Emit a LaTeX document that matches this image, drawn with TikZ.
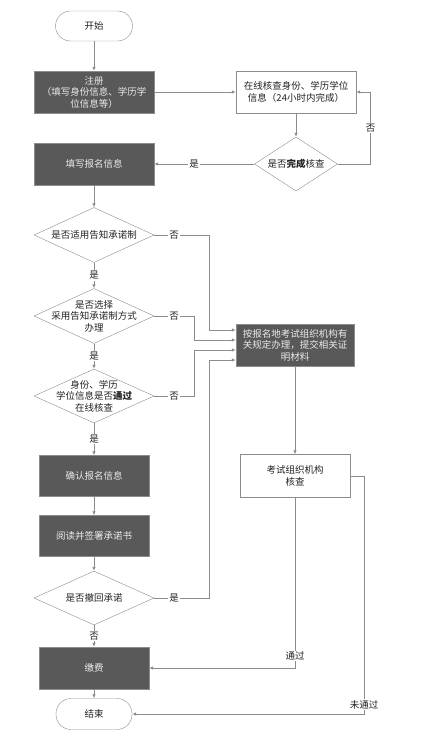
\documentclass[tikz,border=0pt]{standalone}
\usepackage{fontspec}
\setmainfont{Noto Sans CJK SC}
\usetikzlibrary{shapes.geometric,arrows.meta,positioning,calc}
\definecolor{Ink}{HTML}{222222}
\definecolor{Slate}{HTML}{595959}
\definecolor{Wire}{HTML}{8C8C8C}
\tikzset{
  darkbox/.style={draw=Wire,fill=Slate,text=white!92!black,minimum width=120pt,minimum height=42pt,align=center,inner sep=1pt},
  lightbox/.style={draw=Wire,fill=white,text=Ink,minimum width=120pt,minimum height=42pt,align=center,inner sep=1pt},
  terminal/.style={draw=Wire,rounded corners=15pt,minimum width=77pt,minimum height=30pt,text=Ink},
  decision/.style={diamond,draw=Wire,minimum width=120pt,minimum height=55pt,inner sep=0pt,label={[align=center,text=Ink]center:{#1}}},
  flow/.style={-{Latex[length=4pt,width=3.5pt]},draw=Wire,line width=0.8pt},
  tag/.style={fill=white,inner sep=1pt,text=Ink}
}

\begin{document}
\begin{tikzpicture}[x=1pt,y=-1pt,every node/.style={font=\fontsize{9.5}{11.5}\selectfont}]
  \useasboundingbox (0,0) rectangle (430,735);
  % left column
  \node[terminal] (start) at (94,26) {开始};
  \node[darkbox] (reg) at (94,92) {注册\\（填写身份信息、学历学\\位信息等）};
  \node[darkbox] (fill) at (94,164) {填写报名信息};
  \node[decision={是否适用告知承诺制}] (q1) at (94,235) {};
  \node[decision={是否选择\\采用告知承诺制方式\\办理}] (q2) at (94,316) {};
  \node[decision={身份、学历\\学位信息是否\textbf{通过}\\在线核查},minimum height=54pt] (q3) at (94,396) {};
  \node[darkbox,minimum width=110pt,minimum height=41pt] (confirm) at (94,476) {确认报名信息};
  \node[darkbox,minimum width=110pt,minimum height=41pt] (read) at (94,536) {阅读并签署承诺书};
  \node[decision={是否撤回承诺},minimum height=54pt] (q4) at (94,598) {};
  \node[darkbox,minimum width=110pt] (pay) at (94,668) {缴费};
  \node[terminal,minimum width=76pt,minimum height=31pt] (end) at (94,714) {结束};
  % right column
  \node[lightbox] (check) at (296,92) {在线核查身份、学历学位\\信息（24小时内完成）};
  \node[decision={是否\textbf{完成}核查},minimum width=83pt,minimum height=54pt] (q0) at (296,164) {};
  \node[darkbox,minimum width=118pt] (proc) at (295,345) {按报名地考试组织机构有\\关规定办理，提交相关证\\明材料};
  \node[lightbox,minimum width=110pt,minimum height=43pt] (review) at (295,476) {考试组织机构\\核查};

  \draw[flow] (start) -- (reg);
  \draw[flow] (reg) -- (check);
  \draw[flow] (check) -- (q0);
  \draw[flow] (q0.west) -- node[tag,pos=0.6]{是} (fill.east);
  \draw[flow] (q0.east) -- ++(33,0) |- node[tag,pos=0.25]{否} (check.east);
  \draw[flow] (fill) -- (q1);
  \draw[flow] (q1) -- node[tag]{是} (q2);
  \draw[flow] (q2) -- node[tag]{是} (q3);
  \draw[flow] (q3) -- node[tag]{是} (confirm);
  \draw[flow] (confirm) -- (read);
  \draw[flow] (read) -- (q4);
  \draw[flow] (q4) -- node[tag]{否} (pay);
  \draw[flow] (pay) -- (end);
  % into the proof box
  \draw[flow] (q1.east) -- node[tag,pos=0.36]{否} ++(55,0) |- ([yshift=15pt]proc.west);
  \draw[flow] (q2.east) -- node[tag]{否} ++(40,0) |- ([yshift=5pt]proc.west);
  \draw[flow] (q3.east) -- node[tag]{否} ++(40,0) |- ([yshift=-5pt]proc.west);
  \draw[flow] (q4.east) -- node[tag,pos=0.36]{是} ++(55,0) |- ([yshift=-15pt]proc.west);
  \draw[flow] (proc) -- (review);
  \draw[flow] (review.south) |- node[tag,pos=0.465]{通过} (pay.east);
  \draw[flow] (review.east) -- ++(14,0) |- node[tag,pos=0.48]{未通过} (end.east);
\end{tikzpicture}
\end{document}
